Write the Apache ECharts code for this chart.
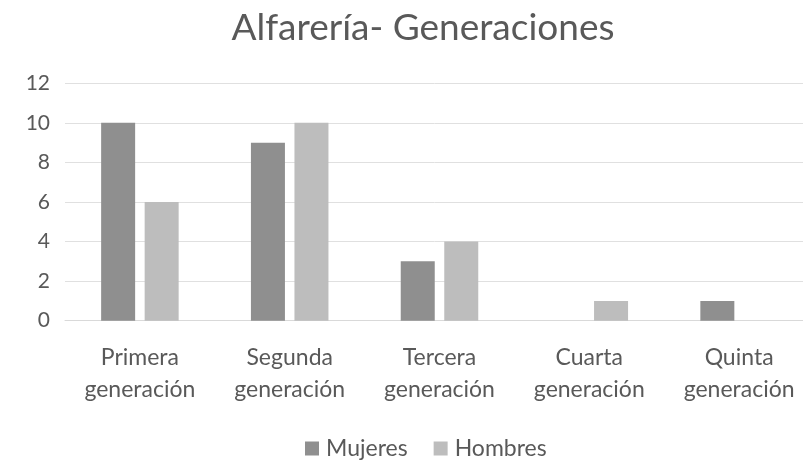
<!DOCTYPE html>
<html><head><meta charset="utf-8">
<script src="https://cdn.jsdelivr.net/npm/echarts@6/dist/echarts.min.js"></script>
<style>html,body{margin:0;padding:0;background:#fff}#c{width:803px;height:462px}</style>
</head><body><div id="c"></div>
<script>
const categories = ["Primera\ngeneración", "Segunda\ngeneración", "Tercera\ngeneración", "Cuarta\ngeneración", "Quinta\ngeneración"];
const mujeres = [10, 9, 3, 0, 1];
const hombres = [6, 10, 4, 1, 0];
const seriesNames = ["Mujeres", "Hombres"];
const yTicks = [0, 2, 4, 6, 8, 10, 12];
const font = "Lato, 'Open Sans', sans-serif";
const chart = echarts.init(document.getElementById('c'));
chart.setOption({
  backgroundColor: '#ffffff',
  animation: false,
  title: {
    text: 'Alfarería- Generaciones',
    left: 418, top: 5, textAlign: 'center',
    textStyle: {fontFamily: font, fontSize: 37, fontWeight: 'normal', color: '#595959'}
  },
  legend: {
    data: seriesNames,
    top: 432, left: 300,
    itemWidth: 14, itemHeight: 14, itemGap: 26,
    icon: 'rect',
    textStyle: {fontFamily: font, fontSize: 23, color: '#595959', padding: [0, 0, 0, 2]}
  },
  grid: {left: 65, top: 83.3, width: 749, height: 237.4, containLabel: false, outerBoundsMode: 'none'},
  xAxis: {
    type: 'category', data: categories,
    axisLine: {lineStyle: {color: '#d9d9d9', width: 1}},
    axisTick: {show: false},
    axisLabel: {fontFamily: font, fontSize: 23, color: '#595959', lineHeight: 32, margin: 21, interval: 0}
  },
  yAxis: {
    type: 'value', min: yTicks[0], max: yTicks[yTicks.length - 1], interval: 2,
    axisLine: {show: false}, axisTick: {show: false},
    splitLine: {lineStyle: {color: '#e0e0e0', width: 1}},
    axisLabel: {fontFamily: font, fontSize: 21, color: '#595959', margin: 15}
  },
  series: [
    {name: seriesNames[0], type: 'bar', data: mujeres, barWidth: 34, barGap: '28%',
     itemStyle: {color: '#8f8f8f'}},
    {name: seriesNames[1], type: 'bar', data: hombres, barWidth: 34,
     itemStyle: {color: '#bdbdbd'}}
  ]
});
</script></body></html>
